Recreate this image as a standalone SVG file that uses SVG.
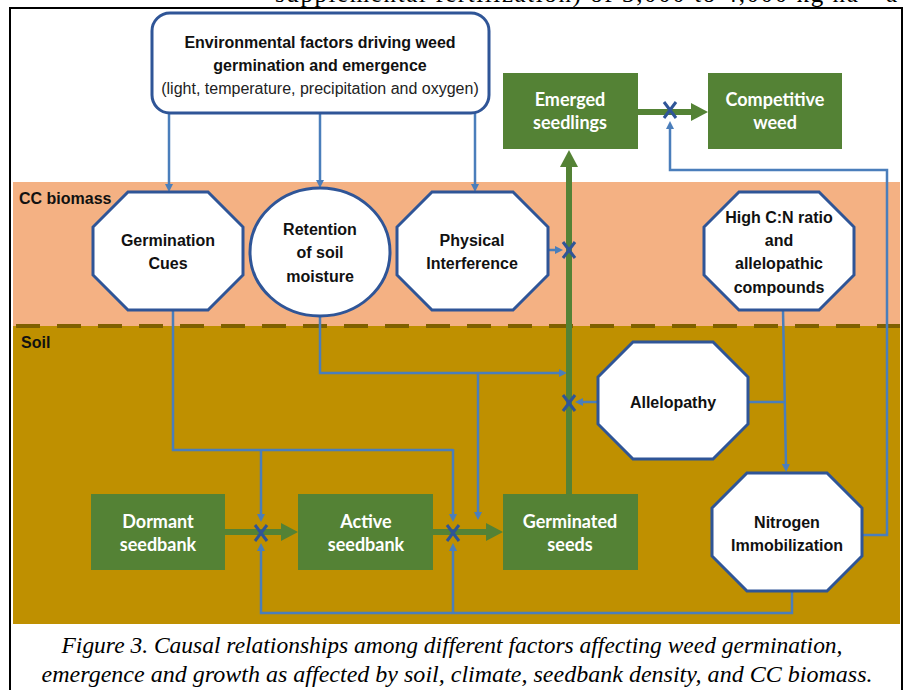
<svg xmlns="http://www.w3.org/2000/svg" width="904" height="690" viewBox="0 0 904 690">
<defs>
<style>
.oct{fill:#fff;stroke:#2F5597;stroke-width:3;stroke-linejoin:miter}
.gbox{fill:#548235}
.gt{font-family:Lato,"Open Sans","Liberation Sans",sans-serif;font-weight:bold;font-size:18px;fill:#fff;text-anchor:middle}
.bt{font-family:"Liberation Sans",Arial,sans-serif;font-weight:bold;font-size:16px;fill:#111;text-anchor:middle}
.rt{font-family:"Liberation Sans",Arial,sans-serif;font-size:16px;fill:#222;text-anchor:middle}
.lbl{font-family:"Liberation Sans",Arial,sans-serif;font-weight:bold;font-size:16px;fill:#111}
.con{fill:none;stroke:#4A7EBB;stroke-width:2.5;stroke-linejoin:miter}
.conA{fill:none;stroke:#4A7EBB;stroke-width:2.5;marker-end:url(#ba)}
.garr{fill:none;stroke:#548235;stroke-width:6;marker-end:url(#ga)}
.x{stroke:#2F5597;stroke-width:3;fill:none}
.cap{font-family:"Liberation Serif","Times New Roman",serif;font-style:italic;font-size:23px;fill:#000;text-anchor:middle}
</style>
<marker id="ba" markerUnits="userSpaceOnUse" markerWidth="8" markerHeight="8" refX="2" refY="4" orient="auto">
<path d="M0,0 L8,4 L0,8 z" fill="#4A7EBB"/>
</marker>
<marker id="ga" markerUnits="userSpaceOnUse" markerWidth="17" markerHeight="18" refX="3" refY="9" orient="auto">
<path d="M0,0 L17,9 L0,18 z" fill="#548235"/>
</marker>
</defs>
<rect width="904" height="690" fill="#fff"/>
<text x="275" y="2" font-family="'Liberation Serif','Times New Roman',serif" font-size="25" textLength="622" lengthAdjust="spacing">supplemental fertilization) of 3,000 to 4,000 kg ha⁻¹ a</text>
<g id="background">
<rect x="13" y="182" width="887" height="144" fill="#F4B183"/>
<rect x="13" y="326" width="887" height="298" fill="#BF9000"/>
<line x1="16" y1="326" x2="900" y2="326" stroke="#7F6000" stroke-width="4" stroke-dasharray="24 17"/>
<rect x="10" y="8" width="892" height="700" fill="none" stroke="#000" stroke-width="2"/>
<text class="lbl" x="19" y="204">CC biomass</text>
<text class="lbl" x="21" y="348">Soil</text>
</g>
<g id="connectors">
<path class="conA" d="M169,113 V186"/>
<path class="conA" d="M320,113 V182"/>
<path class="conA" d="M475,113 V186"/>
<path class="conA" d="M548,250 H557"/>
<path class="con" d="M173,310 V450 H453"/>
<path class="conA" d="M453,449 V516"/>
<path class="conA" d="M261,450 V516"/>
<path class="conA" d="M320,316 V373 H561"/>
<path class="conA" d="M478,373 V514"/>
<path class="conA" d="M598,402 H581"/>
<path class="conA" d="M783,310 L786,466"/>
<path class="con" d="M748,402 H784"/>
<path class="conA" d="M792,591 V613 H261 V549"/>
<path class="conA" d="M453,613 V549"/>
<path class="conA" d="M862,535 H887 V170 H670 V127"/>
<path class="garr" d="M638,112 H694"/>
<path class="garr" d="M569,494 V164"/>
<path class="garr" d="M225,532 H284"/>
<path class="garr" d="M433,532 H489"/>
<path class="x" d="M664,102 L676,118 M676,102 L664,118"/>
<path class="x" d="M563,242 L575,258 M575,242 L563,258"/>
<path class="x" d="M563,395 L575,411 M575,395 L563,411"/>
<path class="x" d="M255,525 L267,541 M267,525 L255,541"/>
<path class="x" d="M447,525 L459,541 M459,525 L447,541"/>
</g>
<g id="env">
<rect x="152" y="13" width="337" height="100" rx="18" fill="#fff" stroke="#2F5597" stroke-width="3"/>
<text class="bt" x="320" y="48">Environmental factors driving weed</text>
<text class="bt" x="320" y="71">germination and emergence</text>
<text class="rt" x="320" y="94">(light, temperature, precipitation and oxygen)</text>
</g>
<g id="emerged">
<rect class="gbox" x="503" y="73" width="135" height="76"/>
<text class="gt" x="570" y="106">Emerged</text>
<text class="gt" x="570" y="129">seedlings</text>
</g>
<g id="competitive">
<rect class="gbox" x="708" y="73" width="134" height="76"/>
<text class="gt" x="775" y="106">Competitive</text>
<text class="gt" x="775" y="129">weed</text>
</g>
<g id="germcues">
<polygon class="oct" points="128,192 208,192 243,227 243,275 208,310 128,310 93,275 93,227"/>
<text class="bt" x="168" y="246">Germination</text>
<text class="bt" x="168" y="269">Cues</text>
</g>
<g id="retention">
<ellipse class="oct" cx="320" cy="252" rx="70" ry="64"/>
<text class="bt" x="320" y="235">Retention</text>
<text class="bt" x="320" y="258">of soil</text>
<text class="bt" x="320" y="282">moisture</text>
</g>
<g id="physical">
<polygon class="oct" points="432,192 513,192 548,227 548,275 513,310 432,310 397,275 397,227"/>
<text class="bt" x="472" y="246">Physical</text>
<text class="bt" x="472" y="269">Interference</text>
</g>
<g id="highcn">
<polygon class="oct" points="739,192 819,192 854,227 854,275 819,310 739,310 704,275 704,227"/>
<text class="bt" x="779" y="223">High C:N ratio</text>
<text class="bt" x="779" y="246">and</text>
<text class="bt" x="779" y="269">allelopathic</text>
<text class="bt" x="779" y="293">compounds</text>
</g>
<g id="allelopathy">
<polygon class="oct" points="633,342 713,342 748,377 748,424 713,459 633,459 598,424 598,377"/>
<text class="bt" x="673" y="408">Allelopathy</text>
</g>
<g id="nitrogen">
<polygon class="oct" points="747,473 827,473 862,508 862,556 827,591 747,591 712,556 712,508"/>
<text class="bt" x="787" y="528">Nitrogen</text>
<text class="bt" x="787" y="551">Immobilization</text>
</g>
<g id="dormant">
<rect class="gbox" x="91" y="494" width="134" height="76"/>
<text class="gt" x="158" y="528">Dormant</text>
<text class="gt" x="158" y="551">seedbank</text>
</g>
<g id="active">
<rect class="gbox" x="298" y="494" width="135" height="76"/>
<text class="gt" x="366" y="528">Active</text>
<text class="gt" x="366" y="551">seedbank</text>
</g>
<g id="germinated">
<rect class="gbox" x="503" y="494" width="135" height="76"/>
<text class="gt" x="570" y="528">Germinated</text>
<text class="gt" x="570" y="551">seeds</text>
</g>
<g id="caption">
<text class="cap" x="452" y="653" textLength="781" lengthAdjust="spacingAndGlyphs">Figure 3. Causal relationships among different factors affecting weed germination,</text>
<text class="cap" x="457" y="682" textLength="831" lengthAdjust="spacingAndGlyphs">emergence and growth as affected by soil, climate, seedbank density, and CC biomass.</text>
</g>
</svg>
